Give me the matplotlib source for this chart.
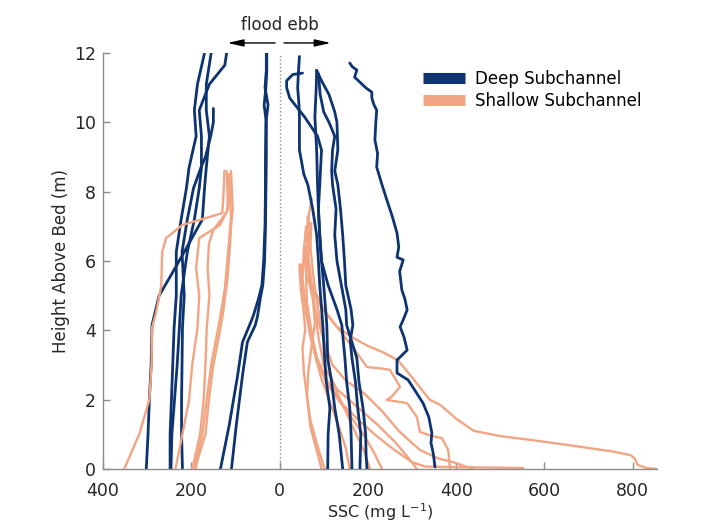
import matplotlib
matplotlib.use("Agg")
import matplotlib.pyplot as plt
from matplotlib.ticker import FuncFormatter
from matplotlib.lines import Line2D

DEEP = "#0d3370"
SHALLOW = "#f2a582"

# SSC profiles (mg/L) vs height above bed (m). Flood profiles are stored as
# positive concentrations and drawn to the left of zero.

# deep subchannel, flood
deep_flood_z = [
    [12, 11.1, 10.35, 9.6, 8.7, 8.1, 7.2, 6.26, 5.5, 5.0, 4.15, 3.0, 2.0, 1.0, 0],
    [12, 11.1, 10.35, 9.6, 8.7, 8.1, 7.2, 6.26, 5.0, 4.07, 3.0, 2.0, 1.0, 0],
    [12, 11.65, 11.1, 10.35, 9.6, 8.7, 8.1, 7.2, 6.26, 5.0, 4.07, 3.0, 2.0, 1.0, 0],
    [10.4, 10.0, 9.6, 9.0, 8.7, 8.1, 7.2, 6.26, 5.0, 4.07, 3.0, 2.0, 1.0, 0],
    [12, 11.5, 11, 10.5, 10, 9, 8, 7, 6, 5.3, 4.9, 4.4, 4.15, 3.66, 2.7, 1.27, 0],
    [12, 11.5, 11, 10.5, 10, 9, 8, 7, 6, 5.3, 4.9, 4.4, 4.15, 3.66, 2.7, 1.27, 0],
]
deep_flood_ssc = [
    [155, 166, 166, 159, 166, 170, 175, 216, 250, 273, 289, 291, 295, 298, 302],
    [170, 186, 193, 189, 205, 211, 223, 234, 234, 239, 242, 245, 248, 248],
    [120, 124, 159, 182, 177, 177, 182, 193, 209, 223, 227, 232, 238, 244, 246],
    [150, 150, 156, 168, 178, 195, 209, 221, 216, 220, 221, 222, 222, 220],
    [30, 30, 33, 26, 31, 32, 32, 33, 36, 40, 48, 60, 68, 84, 95, 114, 134],
    [29, 29, 31, 35, 30, 30, 31, 32, 34, 38, 44, 50, 55, 73, 84, 98, 109],
]

# shallow subchannel, flood
shallow_flood_z = [
    [8.6, 8.2, 7.7, 7.38, 7.04, 6.66, 6.26, 5.3, 4.5, 4.07, 3.0, 2.0, 1.0, 0.5, 0],
    [8.6, 8.0, 7.5, 7.04, 6.66, 5.8, 5.0, 4.07, 3.0, 2.0, 1.0, 0],
    [8.5, 8.0, 7.4, 6.9, 6.5, 5.8, 5.0, 4.07, 3.0, 2.0, 1.0, 0],
    [8.6, 8.0, 7.5, 7.0, 6.5, 5.5, 4.5, 4.0, 3.0, 2.0, 1.0, 0.3, 0],
    [8.5, 8.0, 7.3, 6.8, 6.2, 5.2, 4.5, 4.0, 3.0, 2.0, 1.0, 0],
]
shallow_flood_ssc = [
    [125, 126, 128, 130, 220, 257, 266, 268, 280, 289, 290, 295, 318, 335, 352],
    [120, 118, 117, 135, 182, 189, 182, 186, 198, 205, 220, 236],
    [114, 112, 120, 150, 160, 163, 159, 165, 168, 172, 180, 198],
    [110, 108, 106, 110, 112, 118, 128, 135, 150, 160, 168, 185, 190],
    [116, 113, 110, 113, 117, 124, 133, 140, 155, 165, 175, 193],
]

# deep subchannel, ebb
deep_ebb_z = [
    [11.9, 11.5, 11.0, 10.5, 10.15, 9.2, 8.5, 8.2, 7.5, 6.75, 6.0, 5.3, 4.15, 3.2, 2.5, 1.76, 1.0, 0],
    [11.42, 11.38, 11.2, 11.0, 10.7, 10.15, 9.6, 9.2, 8.2, 7.5, 6.75, 6.0, 5.3, 4.15, 3.2, 2.5, 1.76, 1.0, 0],
    [11.5, 11.0, 10.15, 9.2, 8.2, 7.5, 6.75, 6.0, 5.3, 4.6, 4.15, 3.2, 2.5, 1.76, 1.0, 0],
    [11.5, 11.2, 10.8, 10.3, 10.0, 9.2, 8.6, 8.2, 7.5, 6.75, 6.0, 5.3, 4.6, 4.15, 3.7, 3.2, 2.5, 1.76, 1.0, 0],
    [11.4, 10.8, 10.3, 10.0, 9.6, 9.2, 8.6, 8.2, 7.5, 6.75, 6.0, 5.3, 4.6, 4.15, 3.2, 2.5, 1.76, 1.0, 0.4, 0],
    [11.71, 11.6, 11.51, 11.3, 11.22, 11.0, 10.87, 10.7, 10.5, 10.35, 10.0, 9.49, 9.1, 8.71, 8.2,
     7.76, 7.3, 6.81, 6.4, 6.11, 6.03, 5.7, 5.16, 4.9, 4.59, 4.3, 4.1, 3.8, 3.43, 3.14, 2.77,
     2.57, 2.3, 1.9, 1.5, 1.04, 0.75, 0.46, 0.06],
]
deep_ebb_ssc = [
    [45, 43, 41, 44, 45, 45, 55, 64, 75, 84, 88, 91, 98, 102, 106, 114, 110, 109],
    [52, 30, 16, 16, 23, 57, 86, 95, 91, 88, 91, 95, 100, 107, 109, 118, 125, 135, 143],
    [84, 83, 80, 84, 86, 88, 91, 95, 110, 130, 141, 148, 152, 159, 162, 164],
    [84, 95, 112, 125, 130, 132, 125, 132, 138, 143, 147, 150, 162, 166, 160, 164, 172, 177, 184, 182],
    [88, 92, 100, 112, 125, 120, 118, 120, 128, 125, 130, 140, 150, 152, 175, 180, 189, 195, 196, 198],
    [159, 165, 175, 170, 177, 195, 209, 209, 214, 220, 218, 216, 222, 220, 232,
     243, 255, 266, 270, 266, 280, 272, 277, 284, 289, 280, 273, 282, 289, 266, 266,
     291, 305, 325, 338, 345, 343, 348, 352],
]

# shallow subchannel, ebb
shallow_ebb_z = [
    [7.8, 7.3, 6.6, 6.0, 5.4, 5.0, 4.6, 4.1, 3.8, 3.55, 3.37, 3.14, 2.8, 2.48, 2.0, 1.85,
     1.45, 1.1, 0.95, 0.84, 0.68, 0.5, 0.4, 0.3, 0.12, 0.03, 0.0],
    [7.0, 6.3, 5.5, 5.0, 4.6, 4.0, 3.35, 2.94, 2.9, 2.86, 2.37, 2.1, 1.99, 1.95, 1.9, 1.5,
     1.07, 0.95, 0.89, 0.55, 0.0],
    [6.8, 6.0, 5.2, 4.4, 3.7, 3.0, 2.55, 2.2, 1.7, 1.1, 0.75, 0.55, 0.3, 0.2, 0.08, 0.0],
    [6.3, 5.5, 4.8, 4.0, 3.2, 2.5, 1.9, 1.4, 0.95, 0.55, 0.2, 0.07, 0.05, 0.03],
    [7.0, 6.2, 5.4, 4.6, 3.8, 3.0, 2.3, 1.8, 1.3, 0.8, 0.35, 0.0],
    [5.9, 5.2, 4.5, 3.8, 3.1, 2.4, 1.7, 1.0, 0.45, 0.0],
    [7.1, 6.4, 5.6, 4.8, 4.1, 3.3, 2.5, 1.8, 1.1, 0.5, 0.0],
    [6.4, 5.6, 4.8, 4.0, 3.3, 2.6, 1.9, 1.2, 0.6, 0.0],
    [5.9, 5.2, 4.5, 4.0, 3.5, 2.8, 2.1, 1.4, 0.7, 0.0],
    [7.3, 6.6, 5.8, 5.0, 4.2, 3.5, 2.8, 2.1, 1.2, 0.5, 0.0],
]
shallow_ebb_ssc = [
    [73, 66, 68, 64, 70, 85, 100, 130, 164, 200, 234, 268, 290, 310, 340, 364,
     400, 440, 500, 568, 660, 757, 795, 805, 811, 830, 855],
    [60, 55, 62, 80, 98, 136, 175, 198, 230, 250, 273, 255, 243, 265, 289, 311,
     318, 345, 368, 382, 386],
    [65, 62, 70, 85, 100, 120, 150, 190, 230, 270, 300, 318, 360, 393, 420, 439],
    [55, 52, 58, 70, 85, 110, 140, 180, 220, 260, 300, 330, 420, 552],
    [68, 64, 72, 80, 88, 100, 130, 175, 220, 260, 290, 311],
    [48, 52, 60, 70, 85, 110, 150, 190, 215, 232],
    [72, 70, 76, 85, 95, 105, 120, 145, 170, 192, 205],
    [58, 60, 62, 72, 80, 95, 115, 135, 150, 159],
    [45, 48, 55, 58, 52, 55, 62, 70, 85, 102],
    [64, 62, 66, 75, 80, 72, 65, 62, 70, 85, 95],
]

fig = plt.figure(figsize=(7.12, 5.25), dpi=100)
ax = fig.add_axes([103 / 712, 56 / 525, 554 / 712, 416 / 525])

line_kw = dict(solid_joinstyle="round", solid_capstyle="round")
for zs, cs in zip(deep_flood_z, deep_flood_ssc):
    ax.plot([-c for c in cs], zs, color=DEEP, lw=2.0, zorder=2, **line_kw)
for zs, cs in zip(shallow_flood_z, shallow_flood_ssc):
    ax.plot([-c for c in cs], zs, color=SHALLOW, lw=1.7, zorder=3, **line_kw)
for zs, cs in zip(shallow_ebb_z, shallow_ebb_ssc):
    ax.plot(cs, zs, color=SHALLOW, lw=1.7, zorder=2, **line_kw)
for zs, cs in zip(deep_ebb_z, deep_ebb_ssc):
    ax.plot(cs, zs, color=DEEP, lw=2.0, zorder=3, **line_kw)

ax.plot([0, 0], [0, 12], color="#8a8a8a", ls=":", lw=1.0, zorder=1)

ax.set_xlim(-400, 855)
ax.set_ylim(0, 12)
ax.set_xticks([-400, -200, 0, 200, 400, 600, 800])
ax.set_yticks([0, 2, 4, 6, 8, 10, 12])
ax.xaxis.set_major_formatter(FuncFormatter(lambda v, p: f"{abs(v):.0f}"))

for side in ["top", "right"]:
    ax.spines[side].set_visible(False)
for side in ["left", "bottom"]:
    ax.spines[side].set_color("#8c8c8c")
    ax.spines[side].set_linewidth(1.0)
ax.tick_params(direction="in", length=5, width=1, color="#8c8c8c",
               labelcolor="#262626", labelsize=12.5)
ax.tick_params(axis="x", pad=9)
ax.tick_params(axis="y", pad=5)

ax.set_xlabel("SSC (mg L$^{-1}$)", fontsize=11.5, color="#262626", labelpad=1)
ax.set_ylabel("Height Above Bed (m)", fontsize=12, color="#262626", labelpad=3)

# flow direction arrows above the axes
ax.text(0, 12.8, "flood ebb", ha="center", va="center", fontsize=12,
        color="#262626", clip_on=False)
arrow = dict(arrowstyle="-|>,head_length=0.8,head_width=0.18", color="black",
             lw=1.0, shrinkA=0, shrinkB=0, mutation_scale=12)
ax.annotate("", xy=(-118, 12.29), xytext=(-10, 12.29), arrowprops=arrow,
            annotation_clip=False)
ax.annotate("", xy=(116, 12.29), xytext=(10, 12.29), arrowprops=arrow,
            annotation_clip=False)

handles = [Line2D([], [], color=DEEP, lw=8, solid_capstyle="butt"),
           Line2D([], [], color=SHALLOW, lw=8, solid_capstyle="butt")]
ax.legend(handles, ["Deep Subchannel", "Shallow Subchannel"],
          loc="upper left", bbox_to_anchor=(0.578, 0.96), frameon=False,
          fontsize=12, handlelength=2.5, handletextpad=0.6,
          labelspacing=0.25, borderpad=0, borderaxespad=0)

fig.savefig("out.png", dpi=100)
